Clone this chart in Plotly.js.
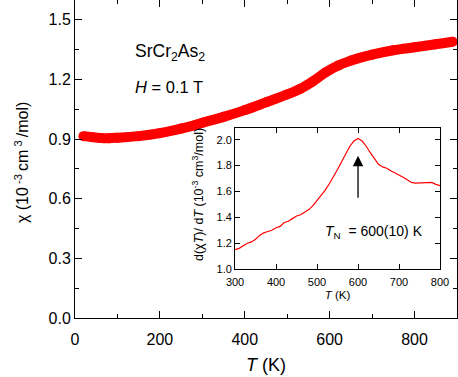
<!DOCTYPE html>
<html>
<head>
<meta charset="utf-8">
<script src="https://cdn.plot.ly/plotly-3.0.1.min.js"></script>
<style>
  html, body { margin: 0; padding: 0; background: #fff; }
  #chart { width: 458px; height: 377px; }
</style>
</head>
<body>
<div id="chart"></div>
<script>
// Main panel: chi(T) of SrCr2As2 at H = 0.1 T
const mainT = [20, 40, 60, 80, 100, 150, 200, 250, 285, 300, 350, 400, 450, 500, 530, 560, 590, 620, 650, 700, 750, 800, 850, 890];
const mainChi = [0.915, 0.91, 0.906, 0.905, 0.907, 0.915, 0.93, 0.953, 0.972, 0.982, 1.012, 1.046, 1.085, 1.125, 1.152, 1.19, 1.235, 1.27, 1.295, 1.325, 1.347, 1.362, 1.377, 1.39];

// Inset: d(chi T)/dT
const insetT = [300, 310, 320, 330, 340, 350, 360, 370, 380, 390, 400, 410, 420, 430, 440, 450, 460, 470, 480, 490, 500, 510, 520, 530, 540, 550, 560, 570, 580, 590, 600, 610, 620, 630, 640, 650, 660, 670, 680, 690, 700, 710, 720, 730, 740, 750, 760, 770, 780, 790, 800];
const insetD = [1.15, 1.16, 1.18, 1.2, 1.21, 1.23, 1.26, 1.28, 1.29, 1.3, 1.32, 1.33, 1.36, 1.37, 1.39, 1.41, 1.42, 1.44, 1.46, 1.49, 1.53, 1.57, 1.61, 1.66, 1.71, 1.77, 1.83, 1.89, 1.95, 1.99, 2.01, 1.99, 1.95, 1.9, 1.85, 1.81, 1.79, 1.78, 1.76, 1.745, 1.73, 1.71, 1.69, 1.67, 1.665, 1.665, 1.67, 1.665, 1.67, 1.655, 1.645];

const font = 'Liberation Sans, Arial, sans-serif';

const traces = [
    {
        x: mainT,
        y: mainChi,
        type: 'scatter',
        mode: 'lines+markers',
        line: { color: '#ff0000', width: 10, shape: 'spline' },
        marker: { color: '#ff0000', size: 10 },
        hoverinfo: 'skip'
    },
    {
        x: insetT,
        y: insetD,
        xaxis: 'x2',
        yaxis: 'y2',
        type: 'scatter',
        mode: 'lines',
        line: { color: '#ff0000', width: 1.2 },
        hoverinfo: 'skip'
    }
];

const axisBase = {
    showline: true,
    linecolor: '#000',
    linewidth: 1,
    mirror: 'allticks',
    ticks: 'inside',
    tickcolor: '#000',
    showgrid: false,
    zeroline: false
};

const layout = {
    width: 458,
    height: 377,
    margin: { l: 75, r: 1, t: 0, b: 59 },
    paper_bgcolor: '#fff',
    plot_bgcolor: '#fff',
    showlegend: false,
    font: { family: font, color: '#000' },
    xaxis: {
        ...axisBase,
        range: [0, 900],
        dtick: 200,
        ticklen: 7,
        ticklabelstandoff: 7,
        tickfont: { size: 16 },
        minor: { dtick: 100, ticklen: 4, ticks: 'inside', tickcolor: '#000' },
        title: { text: '<i>T</i> (K)', font: { size: 18 }, standoff: 11 }
    },
    yaxis: {
        ...axisBase,
        range: [0, 1.6],
        dtick: 0.3,
        tickformat: '.1f',
        ticklen: 7,
        tickfont: { size: 16 },
        minor: { dtick: 0.15, ticklen: 4, ticks: 'inside', tickcolor: '#000' }
    },
    xaxis2: {
        ...axisBase,
        anchor: 'y2',
        domain: [0.419, 0.9555],
        range: [300, 800],
        dtick: 100,
        ticklen: 5,
        ticklabelstandoff: 3,
        tickfont: { size: 11 },
        title: { text: '<i>T</i> (K)', font: { size: 11.5 }, standoff: 3 }
    },
    yaxis2: {
        ...axisBase,
        anchor: 'x2',
        domain: [0.154, 0.597],
        range: [1.0, 2.09],
        dtick: 0.2,
        tickformat: '.1f',
        ticklen: 5,
        tickfont: { size: 11 }
    },
    annotations: [
        {
            x: -0.139, y: 0.49, xref: 'paper', yref: 'paper',
            xanchor: 'center', yanchor: 'middle',
            text: 'χ (10<sup> -3 </sup>cm<sup> 3 </sup>/mol)',
            textangle: -90,
            showarrow: false,
            font: { size: 16 }
        },
        {
            x: (198 - 75) / 382, y: (318 - 195) / 318, xref: 'paper', yref: 'paper',
            xanchor: 'center', yanchor: 'middle',
            text: 'd(χ<i>T</i>)/ d<i>T</i> (10<sup>-3</sup> cm<sup>3</sup>/mol)',
            textangle: -90,
            showarrow: false,
            font: { size: 12.5 }
        },
        {
            x: 136, y: 1.336, xref: 'x', yref: 'y',
            xanchor: 'left', yanchor: 'middle',
            text: 'SrCr<sub>2</sub>As<sub>2</sub>',
            showarrow: false,
            font: { size: 17.5 }
        },
        {
            x: 136, y: 1.16, xref: 'x', yref: 'y',
            xanchor: 'left', yanchor: 'middle',
            text: '<i>H</i> = 0.1 T',
            showarrow: false,
            font: { size: 16.5 }
        },
        {
            x: 639, y: 1.287, xref: 'x2', yref: 'y2',
            xanchor: 'center', yanchor: 'middle',
            text: '<i>T</i><sub>N</sub>  = 600(10) K',
            showarrow: false,
            font: { size: 14 }
        },
        {
            x: 600, y: 1.876, xref: 'x2', yref: 'y2',
            ax: 600, ay: 1.54, axref: 'x2', ayref: 'y2',
            text: '',
            showarrow: true,
            arrowhead: 2,
            arrowsize: 1.6,
            arrowwidth: 1.3,
            arrowcolor: '#000'
        }
    ]
};

Plotly.newPlot('chart', traces, layout, { displayModeBar: false, staticPlot: true });
</script>
</body>
</html>
